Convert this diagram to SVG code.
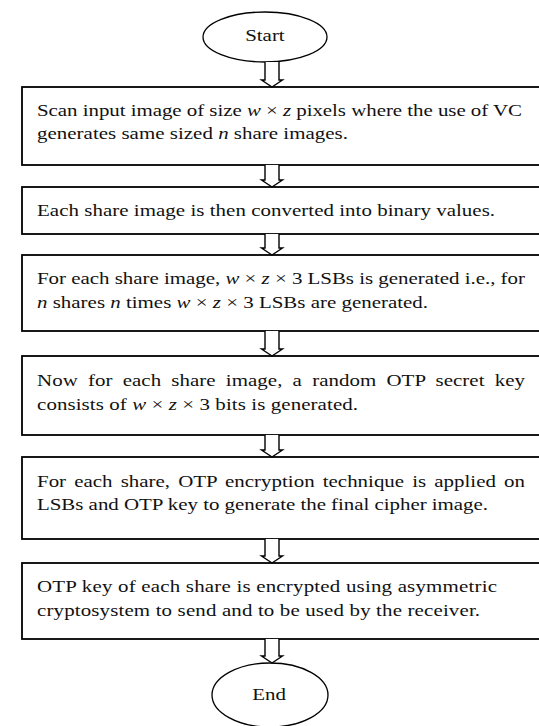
<svg xmlns="http://www.w3.org/2000/svg" width="539" height="726" viewBox="0 0 539 726">
  <style>
    .box { fill: #fff; stroke: #000; stroke-width: 1.8; }
    .term { fill: #fff; stroke: #000; stroke-width: 1.3; }
    .arrow { fill: #fff; stroke: #000; stroke-width: 1.4; stroke-linejoin: miter; }
    text { font-family: "Liberation Serif", "Times New Roman", serif; font-size: 17px; fill: #111; }
    .c { text-anchor: middle; }
    .i { font-style: italic; }
  </style>
  <rect width="539" height="726" fill="#fff"/>

  <!-- terminals -->
  <g id="start">
    <ellipse class="term" cx="265" cy="37" rx="62" ry="25"/>
  </g>
  <g id="end">
    <ellipse class="term" cx="270" cy="695" rx="58" ry="32"/>
  </g>

  <!-- process steps -->
  <g id="step1"><rect class="box" x="22" y="87" width="520" height="78"/></g>
  <g id="step2"><rect class="box" x="22" y="187" width="520" height="47"/></g>
  <g id="step3"><rect class="box" x="22" y="255" width="520" height="76"/></g>
  <g id="step4"><rect class="box" x="22" y="356" width="520" height="79"/></g>
  <g id="step5"><rect class="box" x="22" y="457" width="520" height="82"/></g>
  <g id="step6"><rect class="box" x="22" y="563" width="520" height="76"/></g>

  <!-- hollow block arrows between steps -->
  <g id="connectors">
    <path class="arrow" d="M265,62 V80 H261.5 L272,87 L282.5,80 H279 V62"/>
    <path class="arrow" d="M265,165 V180 H261.5 L272,187 L282.5,180 H279 V165"/>
    <path class="arrow" d="M265,234 V248 H261.5 L272,255 L282.5,248 H279 V234"/>
    <path class="arrow" d="M265,331 V349 H261.5 L272,356 L282.5,349 H279 V331"/>
    <path class="arrow" d="M265,435 V450 H261.5 L272,457 L282.5,450 H279 V435"/>
    <path class="arrow" d="M265,539 V556 H261.5 L272,563 L282.5,556 H279 V539"/>
    <path class="arrow" d="M265,639 V656 H261.5 L272,663 L282.5,656 H279 V639"/>
  </g>

  <!-- labels: the typeface is set wide, so the text layer is stretched horizontally -->
  <g id="labels" transform="scale(1.23 1)">
    <text class="c" x="215.4" y="41">Start</text>
    <text class="c" x="218.7" y="700">End</text>

    <text x="30.1" y="116" textLength="394.3">Scan input image of size <tspan class="i">w</tspan> × <tspan class="i">z</tspan> pixels where the use of VC</text>
    <text x="30.1" y="139" textLength="252.8">generates same sized <tspan class="i">n</tspan> share images.</text>

    <text x="30.1" y="216" textLength="372.4">Each share image is then converted into binary values.</text>

    <text x="30.1" y="284" textLength="396.7">For each share image, <tspan class="i">w</tspan> × <tspan class="i">z</tspan> × 3 LSBs is generated i.e., for</text>
    <text x="30.1" y="308" textLength="317.9"><tspan class="i">n</tspan> shares <tspan class="i">n</tspan> times <tspan class="i">w</tspan> × <tspan class="i">z</tspan> × 3 LSBs are generated.</text>

    <text x="30.1" y="386" textLength="396.7" word-spacing="4">Now for each share image, a random OTP secret key</text>
    <text x="30.1" y="410" textLength="261">consists of <tspan class="i">w</tspan> × <tspan class="i">z</tspan> × 3 bits is generated.</text>

    <text x="30.1" y="487" textLength="396.7" word-spacing="2.3">For each share, OTP encryption technique is applied on</text>
    <text x="30.1" y="510" textLength="366.7">LSBs and OTP key to generate the final cipher image.</text>

    <text x="30.1" y="592" textLength="374">OTP key of each share is encrypted using asymmetric</text>
    <text x="30.1" y="616" textLength="360.2">cryptosystem to send and to be used by the receiver.</text>
  </g>
</svg>
